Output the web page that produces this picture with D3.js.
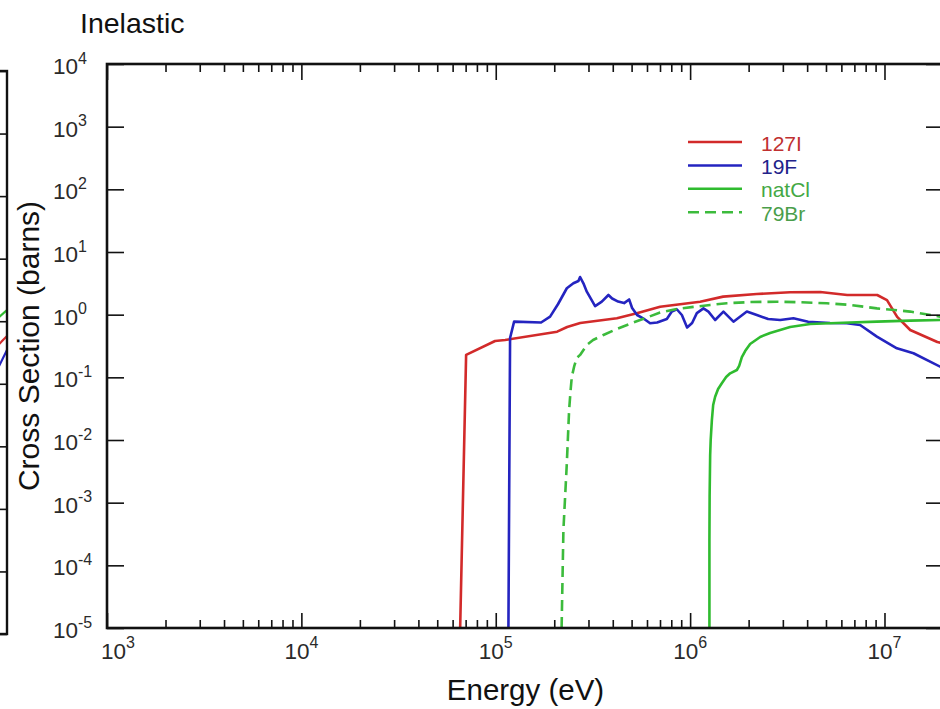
<!DOCTYPE html>
<html>
<head>
<meta charset="utf-8">
<script src="https://cdn.jsdelivr.net/npm/d3@7"></script>
<style>
  html, body { margin: 0; padding: 0; background: #fff; }
  svg { display: block; font-family: "Liberation Sans", Arial, Helvetica, sans-serif; }
</style>
</head>
<body>
<svg id="chart" width="940" height="709"></svg>
<script>
// Inelastic neutron cross sections, energy in eV, cross section in barns
const energyMajorTicks = [1e3, 1e4, 1e5, 1e6, 1e7];
const sigmaMajorTicks = [1e4, 1e3, 1e2, 1e1, 1e0, 1e-1, 1e-2, 1e-3, 1e-4, 1e-5];

const seriesNames = ["127I", "19F", "natCl", "79Br"];

const iodine127 = [
  [6.56e4, 1e-5], [7.04e4, 0.228], [9.92e4, 0.38], [1.117e5, 0.394], [2.07e5, 0.535],
  [2.33e5, 0.635], [2.72e5, 0.736], [4.2e5, 0.875], [5.32e5, 1.05], [7.01e5, 1.34],
  [1.126e6, 1.61], [1.479e6, 1.94], [2.2e6, 2.14], [3.27e6, 2.28], [4.67e6, 2.3],
  [6.43e6, 2.06], [9.17e6, 2.06], [1.03e7, 1.71], [1.162e7, 0.92], [1.356e7, 0.57],
  [1.87e7, 0.366], [2.0e7, 0.35]
];

const fluorine19 = [
  [1.162e5, 1e-5], [1.185e5, 0.425], [1.243e5, 0.773], [1.711e5, 0.75], [1.904e5, 0.929],
  [2.093e5, 1.48], [2.321e5, 2.64], [2.509e5, 3.17], [2.663e5, 3.45], [2.716e5, 3.99],
  [2.825e5, 3.17], [2.941e5, 2.33], [3.245e5, 1.37], [3.513e5, 1.61], [3.799e5, 2.06],
  [3.97e5, 1.81], [4.262e5, 1.62], [4.575e5, 1.53], [4.855e5, 1.75], [5.03e5, 1.28],
  [5.336e5, 0.988], [5.73e5, 0.875], [6.225e5, 0.728], [6.765e5, 0.75], [7.59e5, 0.853],
  [8.05e5, 1.12], [8.54e5, 1.22], [9.07e5, 0.988], [9.65e5, 0.624], [1.024e6, 0.736],
  [1.083e6, 1.06], [1.171e6, 1.26], [1.242e6, 1.12], [1.345e6, 0.822], [1.484e6, 1.12],
  [1.671e6, 0.773], [1.958e6, 1.12], [2.204e6, 0.988], [2.52e6, 0.853], [2.906e6, 0.822],
  [3.401e6, 0.875], [4.05e6, 0.773], [5.254e6, 0.736], [6.404e6, 0.728], [7.495e6, 0.684],
  [9.14e6, 0.446], [1.158e7, 0.29], [1.41e7, 0.242], [1.934e7, 0.148], [2.0e7, 0.14]
];

const chlorineNat = [
  [1.257e6, 1e-5], [1.257e6, 2.54e-4], [1.26e6, 1.25e-3], [1.268e6, 5.77e-3], [1.276e6, 0.01],
  [1.294e6, 0.0208], [1.314e6, 0.0362], [1.345e6, 0.0491], [1.393e6, 0.0652], [1.456e6, 0.0804],
  [1.532e6, 0.101], [1.607e6, 0.116], [1.74e6, 0.131], [1.788e6, 0.152], [1.846e6, 0.211],
  [1.919e6, 0.263], [2.036e6, 0.34], [2.293e6, 0.441], [2.58e6, 0.51], [3.27e6, 0.635],
  [4.147e6, 0.71], [6.13e6, 0.745], [9.14e6, 0.773], [1.356e7, 0.802], [1.934e7, 0.822],
  [2.0e7, 0.822]
];

const bromine79 = [
  [2.182e5, 1e-5], [2.229e5, 3.66e-4], [2.321e5, 4.25e-3], [2.385e5, 0.0301], [2.428e5, 0.0628],
  [2.462e5, 0.102], [2.53e5, 0.148], [2.612e5, 0.204], [2.716e5, 0.228], [2.941e5, 0.328],
  [3.168e5, 0.394], [3.58e5, 0.474], [4.197e5, 0.591], [5.108e5, 0.75], [5.99e5, 0.901],
  [7.01e5, 1.08], [8.54e5, 1.23], [1.04e6, 1.33], [1.268e6, 1.43], [1.545e6, 1.52],
  [2.036e6, 1.59], [2.794e6, 1.61], [3.682e6, 1.58], [5.052e6, 1.52], [6.66e6, 1.43],
  [9.14e6, 1.26], [1.356e7, 1.12], [1.934e7, 0.929], [2.0e7, 0.92]
];

// Right-hand end of the neighbouring (elastic) panel to the left
const neighbourIodine = [[1.8e7, 0.417], [2.0e7, 0.58]];
const neighbourFluorine = [[1.8e7, 0.179], [2.0e7, 0.347]];
const neighbourChlorine = [[1.8e7, 1.13], [2.0e7, 1.51]];

const lineColors = ["#d22a2a", "#2424c0", "#2fbb2f", "#3cbb3c"];
const textColors = ["#c03030", "#22228a", "#44a844", "#4a9e4a"];
const dashes = [null, null, null, "11,6"];
const seriesData = [iodine127, fluorine19, chlorineNat, bromine79];

const svg = d3.select("#chart");
const plot = { left: 107, right: 943, top: 64, bottom: 628 };

const x = d3.scaleLog().domain([1e3, 2e7]).range([plot.left, plot.right]);
const y = d3.scaleLog().domain([1e-5, 1e4]).range([plot.bottom, plot.top]);

// minor tick positions between decades
const minorTicks = [];
energyMajorTicks.forEach(d => {
  for (let k = 2; k <= 9; k++) {
    const v = d * k;
    if (v < x.domain()[1]) minorTicks.push(v);
  }
});

// ---- neighbouring panel (only its right edge is in view) ----
const nx = d3.scaleLog().domain([1e3, 2e7]).range([7 - 836, 7]);
const ny = d3.scaleLog().domain([1e-5, 1e4]).range([634, 71]);
svg.append("clipPath").attr("id", "nclip")
  .append("rect").attr("x", -829).attr("y", 71).attr("width", 836).attr("height", 563);
const nLine = d3.line().x(d => nx(d[0])).y(d => ny(d[1]));
const nG = svg.append("g");
[[neighbourIodine, lineColors[0]], [neighbourFluorine, lineColors[1]], [neighbourChlorine, lineColors[2]]]
  .forEach(([data, c]) => {
    nG.append("path").attr("d", nLine(data)).attr("fill", "none")
      .attr("stroke", c).attr("stroke-width", 2.2).attr("clip-path", "url(#nclip)");
  });
nG.append("g").attr("transform", "translate(7,0)")
  .call(d3.axisRight(ny).tickValues(sigmaMajorTicks).tickSize(-17).tickFormat(""))
  .call(g => g.select(".domain").remove())
  .call(g => g.selectAll("line").attr("stroke", "#111").attr("stroke-width", 1.6));
nG.append("rect").attr("x", -829).attr("y", 71).attr("width", 836).attr("height", 563)
  .attr("fill", "none").attr("stroke", "#111").attr("stroke-width", 2.4);

// ---- main panel ----
svg.append("clipPath").attr("id", "pclip")
  .append("rect").attr("x", plot.left).attr("y", plot.top)
  .attr("width", plot.right - plot.left).attr("height", plot.bottom - plot.top);

const line = d3.line().x(d => x(d[0])).y(d => y(d[1]));
const curves = svg.append("g").attr("clip-path", "url(#pclip)");
seriesData.forEach((data, i) => {
  curves.append("path")
    .attr("d", line(data))
    .attr("fill", "none")
    .attr("stroke", lineColors[i])
    .attr("stroke-width", 2.6)
    .attr("stroke-linejoin", "round")
    .attr("stroke-dasharray", dashes[i]);
});

function styleTicks(g) {
  g.select(".domain").remove();
  g.selectAll("line").attr("stroke", "#111").attr("stroke-width", 1.6);
}

// bottom and top axes: major and minor ticks pointing inward
svg.append("g").attr("transform", `translate(0,${plot.bottom})`)
  .call(d3.axisBottom(x).tickValues(energyMajorTicks).tickSize(-15).tickFormat("")).call(styleTicks);
svg.append("g").attr("transform", `translate(0,${plot.bottom})`)
  .call(d3.axisBottom(x).tickValues(minorTicks).tickSize(-8).tickFormat("")).call(styleTicks);
svg.append("g").attr("transform", `translate(0,${plot.top})`)
  .call(d3.axisTop(x).tickValues(energyMajorTicks).tickSize(-16).tickFormat("")).call(styleTicks);
svg.append("g").attr("transform", `translate(0,${plot.top})`)
  .call(d3.axisTop(x).tickValues(minorTicks).tickSize(-8).tickFormat("")).call(styleTicks);

// left and right axes
svg.append("g").attr("transform", `translate(${plot.left},0)`)
  .call(d3.axisLeft(y).tickValues(sigmaMajorTicks).tickSize(-17).tickFormat("")).call(styleTicks);
svg.append("g").attr("transform", `translate(${plot.right},0)`)
  .call(d3.axisRight(y).tickValues(sigmaMajorTicks).tickSize(-17).tickFormat("")).call(styleTicks);

// frame
svg.append("rect")
  .attr("x", plot.left).attr("y", plot.top)
  .attr("width", plot.right - plot.left).attr("height", plot.bottom - plot.top)
  .attr("fill", "none").attr("stroke", "#111").attr("stroke-width", 2.6);

// power-of-ten labels
const exponent = v => Math.round(Math.log10(v));
const xLabels = svg.append("g").attr("fill", "#2a2a2a");
energyMajorTicks.forEach((v, i) => {
  const t = xLabels.append("text")
    .attr("x", x(v) + (i === 0 ? 11 : 0))
    .attr("y", 658.5)
    .attr("text-anchor", "middle");
  t.append("tspan").attr("font-size", 22.5).text("10");
  t.append("tspan").attr("font-size", 16).attr("dy", -11).text(exponent(v));
});

const yLabels = svg.append("g").attr("fill", "#2a2a2a");
sigmaMajorTicks.forEach(v => {
  const t = yLabels.append("text")
    .attr("x", 53)
    .attr("y", y(v) + 10)
    .attr("text-anchor", "start");
  t.append("tspan").attr("font-size", 22.5).text("10");
  t.append("tspan").attr("font-size", 16).attr("dy", -10.5)
    .text(exponent(v) < 0 ? "-" + Math.abs(exponent(v)) : exponent(v));
});

// titles
svg.append("text").attr("x", 80).attr("y", 33)
  .attr("font-size", 28.5).attr("fill", "#111").text("Inelastic");
svg.append("text").attr("x", 525.5).attr("y", 700)
  .attr("text-anchor", "middle").attr("font-size", 29.5).attr("fill", "#111").text("Energy (eV)");
svg.append("text")
  .attr("transform", "translate(39,346) rotate(-90)")
  .attr("text-anchor", "middle").attr("font-size", 30).attr("fill", "#111")
  .text("Cross Section (barns)");

// legend
const legend = svg.append("g");
seriesNames.forEach((name, i) => {
  const ly = 142 + i * 23.4;
  legend.append("line")
    .attr("x1", 688).attr("x2", 742).attr("y1", ly).attr("y2", ly)
    .attr("stroke", lineColors[i]).attr("stroke-width", 2.5)
    .attr("stroke-dasharray", dashes[i]);
  legend.append("text")
    .attr("x", 761).attr("y", ly + 8.5)
    .attr("font-size", 21).attr("fill", textColors[i])
    .text(name);
});
</script>
</body>
</html>
